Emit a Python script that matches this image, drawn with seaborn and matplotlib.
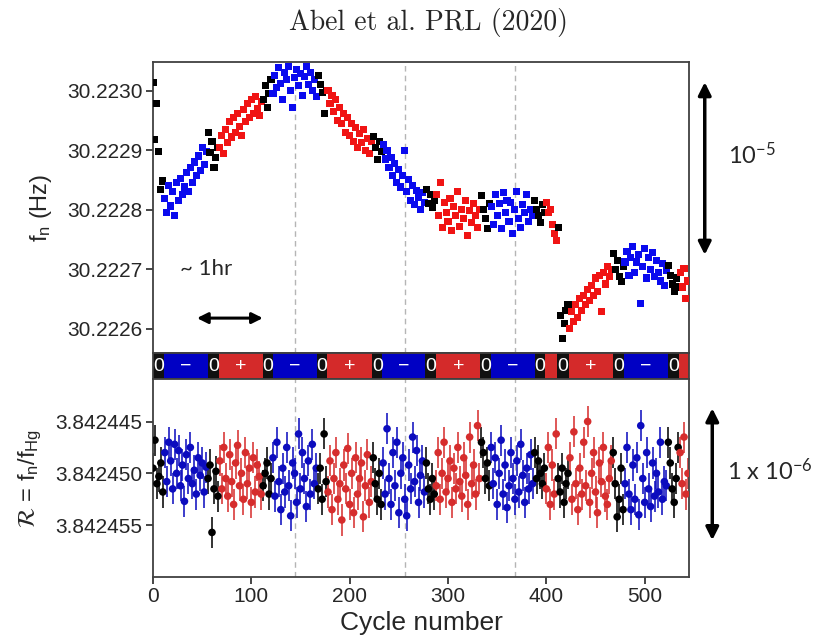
import numpy as np
import pandas as pd
import seaborn as sns
import matplotlib.pyplot as plt
from matplotlib.patches import FancyArrowPatch
from matplotlib.ticker import FixedLocator, FormatStrFormatter

# Electric-field states along the run: segment boundaries (cycle number) and state
BOUNDS = [0, 11, 56, 67, 112, 122, 167, 177, 223, 233, 277, 288, 333, 344,
          388, 399, 411, 423, 468, 479, 524, 535, 545]
STATES = ['0', '-', '0', '+', '0', '-', '0', '+', '0', '-', '0', '+', '0', '-',
          '0', '+', '0', '+', '0', '-', '0', '+']

# Neutron precession frequency, in uHz above 30.2220 Hz (every 2nd cycle)
F_TOP = [
    1013, 918, 979, 898, 834, 848,
    818, 795, 840, 806, 830, 790, 845, 815, 852, 826, 838, 862, 830, 870, 845, 880,
    858, 890, 866, 905, 876, 898,
    930, 896, 915, 871, 888, 905,
    905, 925, 895, 935, 912, 948, 922, 955, 930, 962, 940, 925, 968, 948, 978, 955,
    985, 962, 990, 970, 958, 982,
    985, 1008, 971, 995, 1018,
    995, 1025, 1005, 1038, 1012, 985, 1030, 1018, 1040, 1000, 971, 1022, 1035, 1008,
    1028, 992, 1024, 1040, 1010, 1030, 1000, 1018, 990,
    1026, 1010, 996, 962, 1000,
    1000, 978, 992, 965, 985, 950, 972, 945, 962, 930, 955, 925, 945, 915, 938, 905,
    928, 912, 935, 900, 920, 895, 915,
    923, 905, 884, 915, 897,
    910, 885, 900, 870, 888, 858, 878, 845, 868, 838, 858, 900, 830, 850, 815, 840,
    808, 832, 820, 800, 828, 812,
    834, 810, 825, 804, 815,
    825, 790, 846, 770, 812, 795, 780, 818, 765, 805, 790, 830, 772, 800, 785, 815,
    756, 798, 778, 810, 790, 770, 800,
    823, 800, 785, 768, 810,
    805, 775, 825, 790, 810, 768, 829, 795, 815, 780, 812, 760, 800, 830, 785, 770,
    808, 795, 825, 780, 800, 790,
    815, 800, 790, 779, 808, 795,
    812, 795, 800, 775, 760, 748,
    770, 622, 583, 608, 630, 640,
    600, 628, 612, 640, 618, 650, 630, 655, 640, 665, 648, 672, 655, 685, 662, 690,
    628, 695, 675, 705, 688, 700,
    726, 700, 715, 688, 679, 705,
    712, 730, 690, 720, 738, 695, 712, 725, 642, 705, 734, 685, 720, 700, 728, 688,
    715, 695, 680, 710, 672, 698,
    706, 690, 675, 662, 685, 670,
    695, 670, 701, 651, 680,
]

# Frequency ratio R, in units of 1e-7 relative to 3.8424500
R_BOT = [
    -5, -32, 10, 3, -10, 18,
    -20, 8, -30, -12, 15, -28, 0, -22, 12, -8, 27, -18, 5, -25, 10, -3, 20, -15, 2,
    -10, 18, -6,
    5, -8, 57, 15, -2, 22,
    -12, 15, -25, 5, 22, -18, 8, 30, -10, -27, 12, 0, 25, -20, 10, -5, 28, -15, 18,
    -8, 3, 20,
    12, 0, -10, 20, 5,
    -15, 22, -30, 8, 35, -5, 18, -25, 12, 41, -10, 0, 28, -38, 15, -20, 5, 32, -12,
    20, -28, 10, -5,
    15, -5, 25, -38, 8,
    18, -12, 35, 5, -20, 25, 10, 45, -8, 15, -24, 30, 0, 38, -15, 20, 5, -10, 42,
    12, -18, 28, 8,
    -15, 10, 25, 0, 30,
    -10, 20, -43, 5, 30, -20, 12, -30, 38, 0, -15, 25, 41, -8, 15, -35, 8, -22, 28,
    2, -12, 18,
    -10, 15, 25, 5, 20,
    12, -20, 25, 0, -30, 18, 5, -12, 28, -5, 15, -25, 8, 22, -15, 2, 30, -35, 10,
    -8, 20, -46, 5,
    -30, -20, 5, -10, 12,
    -25, 10, -15, 30, 0, -32, 20, -8, 33, 12, -20, 5, 25, -12, 18, -28, 2, 28, -5,
    15, -18, 10,
    -20, 5, -12, 0, 10, -5,
    15, -25, 30, -8, 20, -38,
    5, 18, -5, 28, 10, 0,
    -15, 25, -40, 10, 35, -5, 20, -30, 12, -50, 28, 0, -20, 18, 38, -10, 8, -25, 22,
    30, 5, -12,
    -20, 10, 42, 25, -5, 35,
    10, -25, 20, 35, -8, 25, -15, 40, -46, 5, 28, -20, 15, 32, -10, 22, 0, 18, -30,
    25, 8, 12,
    -30, -10, 15, 28, 5, -25,
    -20, 10, -35, 20, 0,
]
R_SIGMA = 1.5e-6

DASHED_CYCLES = [144, 256, 368]
X_TICKS = [0, 100, 200, 300, 400, 500]
F_TICKS = [30.2226, 30.2227, 30.2228, 30.2229, 30.2230]
R_TICKS = [3.842445, 3.842450, 3.842455]

top_colors = {'0': '#000000', '-': '#0a0aee', '+': '#f01414'}
bot_colors = {'0': '#000000', '-': '#0c0cbe', '+': '#d62d2d'}
strip_colors = {'0': '#111111', '-': '#0000c4', '+': '#d42a2a'}
strip_text = {'0': '0', '-': '\u2212', '+': '+'}

sns.set_style("white")
plt.rcParams['font.family'] = ['Liberation Sans', 'DejaVu Sans']
plt.rcParams['mathtext.fontset'] = 'stixsans'

cycles = np.arange(0, 2 * len(F_TOP), 2)
seg_idx = np.searchsorted(BOUNDS, cycles, side='right') - 1
df = pd.DataFrame({
    "cycle": cycles,
    "f": 30.222 + np.array(F_TOP) * 1e-6,
    "R": 3.84245 + np.array(R_BOT) * 1e-7,
    "state": np.array(STATES)[seg_idx],
})

fig = plt.figure(figsize=(8.36, 6.37), dpi=100)
ax_top = fig.add_axes([0.183, 0.4458, 0.6411, 0.4569])
ax_strip = fig.add_axes([0.183, 0.4050, 0.6411, 0.0408])
ax_bot = fig.add_axes([0.183, 0.0942, 0.6411, 0.3108])

xlim = (0, 545)

# Top panel: frequency
sns.scatterplot(data=df, x="cycle", y="f", hue="state", palette=top_colors,
                marker="s", s=26, linewidth=0, legend=False, ax=ax_top, zorder=3)
ax_top.set_xlim(*xlim)
ax_top.set_ylim(30.222559, 30.223048)
ax_top.yaxis.set_major_locator(FixedLocator(F_TICKS))
ax_top.yaxis.set_major_formatter(FormatStrFormatter("%.4f"))
ax_top.set_xticks([])
ax_top.set_xlabel("")
ax_top.set_ylabel("f$_\\mathregular{n}$ (Hz)", fontsize=17)
ax_top.yaxis.set_label_coords(-0.185, 0.5)

# ~1hr marker
ax_top.annotate("", xy=(0.205, 0.12), xytext=(0.082, 0.12), xycoords="axes fraction",
                arrowprops=dict(arrowstyle="<|-|>", color="black", lw=2.2,
                                mutation_scale=16, shrinkA=0, shrinkB=0))
ax_top.text(0.05, 0.29, "~ 1hr", transform=ax_top.transAxes, fontsize=16,
            family=["Lato", "DejaVu Sans"], va="center", ha="left")

# State strip
for b0, b1, st in zip(BOUNDS[:-1], BOUNDS[1:], STATES):
    ax_strip.axvspan(b0, b1, color=strip_colors[st], lw=0)
    if st == '0' or b1 - b0 > 20:
        ax_strip.text((b0 + b1) / 2, 0.5, strip_text[st], color="white", fontsize=14,
                      ha="center", va="center", transform=ax_strip.get_xaxis_transform())
ax_strip.set_xlim(*xlim)
ax_strip.set_xticks([])
ax_strip.set_yticks([])

# Bottom panel: ratio with error bars
for st in ['-', '+', '0']:
    sub = df[df["state"] == st]
    ax_bot.errorbar(sub["cycle"], sub["R"], yerr=R_SIGMA, fmt="none",
                    ecolor=bot_colors[st], elinewidth=1.4, alpha=0.8, zorder=2)
sns.scatterplot(data=df, x="cycle", y="R", hue="state", palette=bot_colors,
                marker="o", s=30, linewidth=0, legend=False, ax=ax_bot, zorder=3)
ax_bot.set_xlim(*xlim)
ax_bot.set_ylim(3.8424600, 3.8424409)
ax_bot.yaxis.set_major_locator(FixedLocator(R_TICKS))
ax_bot.yaxis.set_major_formatter(FormatStrFormatter("%.6f"))
ax_bot.set_xticks(X_TICKS)
ax_bot.set_xlabel("Cycle number", fontsize=19)
ax_bot.xaxis.set_label_coords(0.5, -0.17)
ax_bot.set_ylabel("$\\mathcal{R}$ = f$_\\mathregular{n}$/f$_\\mathregular{Hg}$", fontsize=17)
ax_bot.yaxis.set_label_coords(-0.205, 0.5)

for ax in (ax_top, ax_bot):
    for c in DASHED_CYCLES:
        ax.axvline(c, color="#b5b5b5", ls=(0, (4, 3)), lw=1, zorder=0)
    ax.tick_params(axis="both", direction="out", length=5, width=1.2, labelsize=15,
                   pad=2.5, left=True, bottom=True)

for ax in (ax_top, ax_strip, ax_bot):
    for sp in ax.spines.values():
        sp.set_visible(True)
        sp.set_color("#404040")
        sp.set_linewidth(1.3)

# Title and scale arrows
fig.text(0.513, 0.965, "Abel et al. PRL (2020)", family="cmr10", fontsize=20,
         ha="center", va="center")
for x0, y0, y1 in [(0.843, 0.600, 0.871), (0.852, 0.152, 0.359)]:
    fig.patches.append(FancyArrowPatch(
        (x0, y0), (x0, y1), transform=fig.transFigure, arrowstyle="<|-|>",
        mutation_scale=19, lw=2.5, color="black", shrinkA=0, shrinkB=0))
fig.text(0.871, 0.757, "10$^{\\mathregular{-5}}$", fontsize=17,
         family=["Lato", "DejaVu Sans"], ha="left", va="center")
fig.text(0.870, 0.262, "1 x 10$^{\\mathregular{-6}}$", fontsize=17,
         family=["Lato", "DejaVu Sans"], ha="left", va="center")

fig.savefig("out.png", dpi=100)
